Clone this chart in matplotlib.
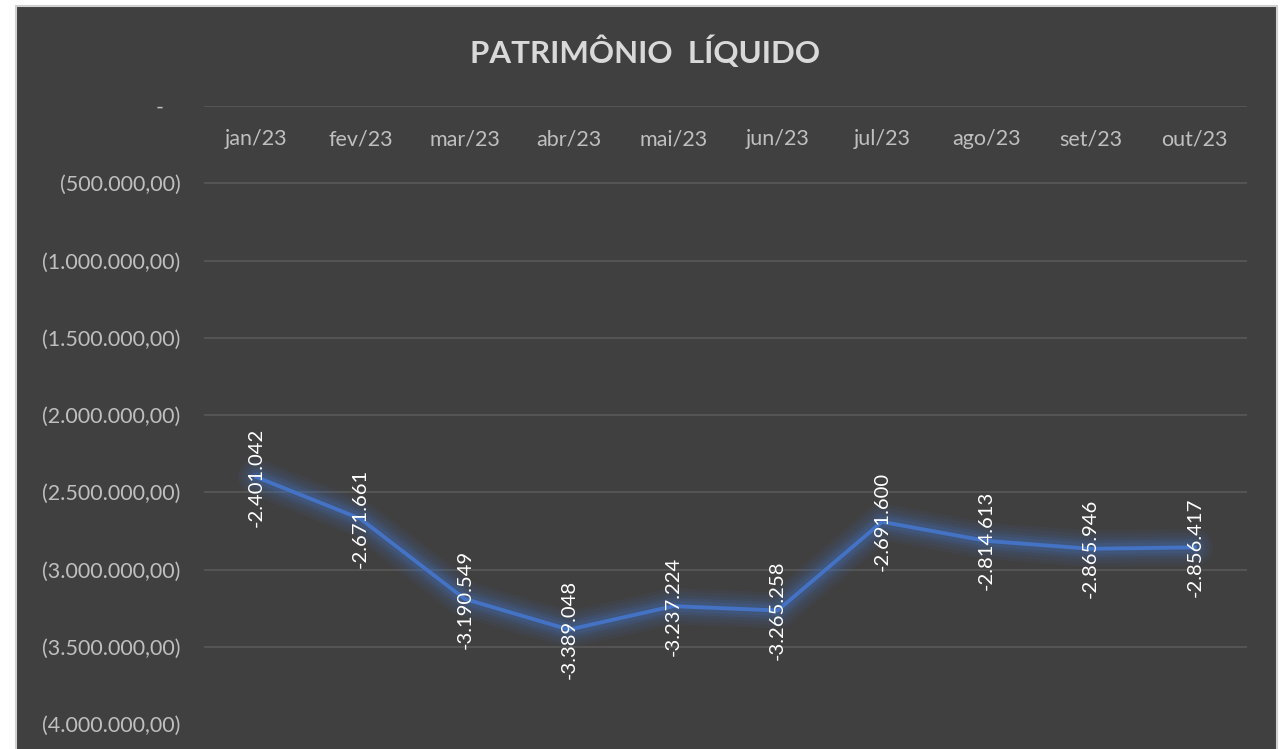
import numpy as np
import matplotlib.pyplot as plt
from matplotlib.patches import Rectangle

# ==========================
# Data
# ==========================

months = ["jan/23", "fev/23", "mar/23", "abr/23", "mai/23",
          "jun/23", "jul/23", "ago/23", "set/23", "out/23"]

patrimonio = [-2401042, -2671661, -3190549, -3389048, -3237224,
              -3265258, -2691600, -2814613, -2865946, -2856417]

y_ticks = [0, -500000, -1000000, -1500000, -2000000,
           -2500000, -3000000, -3500000, -4000000]

BG = "#404040"
GRID = "#595959"
TXT = "#bfbfbf"
BLUE = "#4472C4"

plt.rcParams['font.family'] = ['Lato', 'DejaVu Sans']


def fmt_br(v):
    return f"{v:,.0f}".replace(",", ".")


def fmt_tick(v):
    if v == 0:
        return "-   "
    s = f"{abs(v):,.2f}".replace(",", "X").replace(".", ",").replace("X", ".")
    return f"({s})"


# ==========================
# Figure
# ==========================

fig = plt.figure(figsize=(12.84, 7.49), dpi=100)
fig.patch.set_facecolor("white")
fig.patches.append(Rectangle((16 / 1284, -0.01), 1261 / 1284, 1 - 6 / 749 + 0.01,
                             transform=fig.transFigure, facecolor=BG,
                             edgecolor="#d0d0d0", linewidth=1.5, zorder=-10))

ax = fig.add_axes([204 / 1284, 1 - 724 / 749, 1043 / 1284, 618 / 749])
ax.set_facecolor("none")
ax.set_zorder(5)

x = np.arange(len(months))

# glow
for w, a in [(26, 0.07), (21, 0.08), (16, 0.10), (12, 0.13), (8, 0.18)]:
    ax.plot(x, patrimonio, color=BLUE, lw=w, alpha=a, solid_capstyle="round",
            solid_joinstyle="round", zorder=2)
ax.plot(x, patrimonio, color=BLUE, lw=2.8, solid_joinstyle="round", zorder=3)

for xi, v in zip(x, patrimonio):
    ax.text(xi, v, fmt_br(v), rotation=90, ha="center", va="center",
            color="white", fontsize=14.6, zorder=4)

# grid lines (no line at the bottom tick)
for t in y_ticks[:-1]:
    ax.axhline(t, color=GRID, lw=1.2, zorder=1)

ax.set_xlim(-0.5, len(months) - 0.5)
ax.set_ylim(-4000000, 0)
ax.set_yticks(y_ticks)
ax.set_yticklabels([fmt_tick(t) for t in y_ticks])
ax.tick_params(axis="y", length=0, pad=17, labelsize=15.5, labelcolor=TXT)

ax.set_xticks(x)
ax.set_xticklabels(months)
ax.tick_params(axis="x", length=0, top=True, labeltop=True, bottom=False,
               labelbottom=False, pad=-31, labelsize=15.5, labelcolor=TXT)

for s in ax.spines.values():
    s.set_visible(False)

fig.text(645 / 1284, 1 - 52 / 749, "PATRIMÔNIO  LÍQUIDO", ha="center",
         va="center", fontsize=22.5, fontweight="bold", color="#d9d9d9")

fig.savefig("out.png", dpi=100)
